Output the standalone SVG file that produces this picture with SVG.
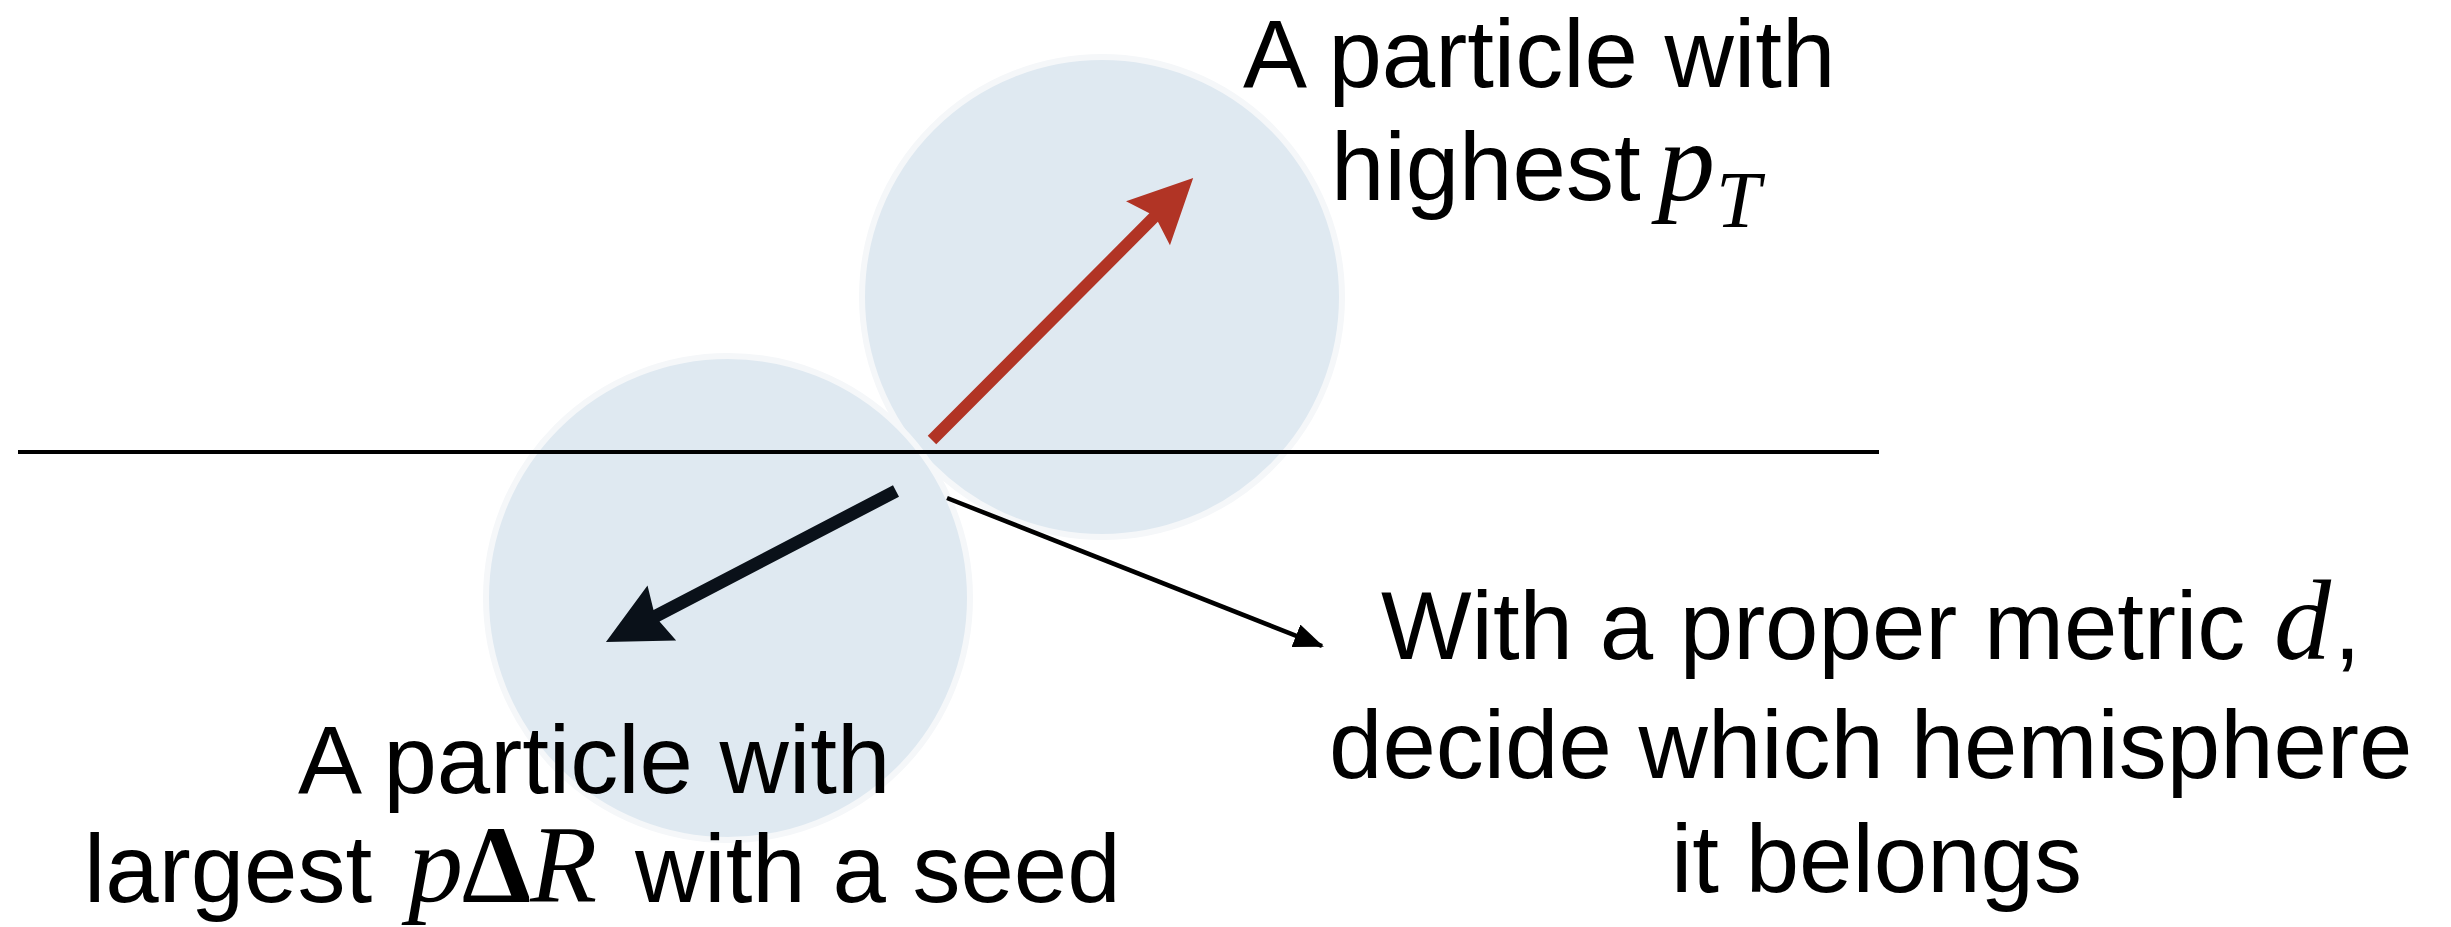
<svg xmlns="http://www.w3.org/2000/svg" width="2451" height="927" viewBox="0 0 2451 927">
  <style>
    .bubble { fill: #dfe9f1; stroke: #f5f7f9; stroke-width: 6; }
    .lbl { font-family: "Liberation Sans", Arial, sans-serif; font-size: 96px; fill: #000; }
    .math { font-family: "Liberation Serif", "Times New Roman", serif; font-style: italic; font-size: 114px; fill: #000; }
    .mathlow { font-family: "Liberation Serif", "Times New Roman", serif; font-style: italic; font-size: 110px; fill: #000; }
    .sub { font-family: "Liberation Serif", "Times New Roman", serif; font-style: italic; font-size: 80px; fill: #000; }
    .delta { font-family: "Liberation Serif", "Times New Roman", serif; font-weight: bold; font-size: 110px; fill: #000; }
    .axis { stroke: #000; stroke-width: 4; fill: none; }
    .pointer { stroke: #000; stroke-width: 4.5; fill: none; }
  </style>
  <defs>
    <marker id="thinHead" markerUnits="userSpaceOnUse" markerWidth="34" markerHeight="28" refX="28" refY="12" orient="auto">
      <path d="M0,0 L30,12 L0,24 Z" fill="#000"/>
    </marker>
  </defs>
  <rect width="2451" height="927" fill="#fff"/>

  <g id="hemisphere-upper">
    <circle class="bubble" cx="1102" cy="297" r="240"/>
  </g>
  <g id="hemisphere-lower">
    <circle class="bubble" cx="728" cy="598" r="242"/>
  </g>

  <g id="connectors">
    <line class="axis" x1="18" y1="452" x2="1879" y2="452"/>
    <line class="pointer" x1="947" y1="498" x2="1322" y2="646" marker-end="url(#thinHead)"/>
  </g>

  <g id="arrow-highest-pt">
    <path transform="translate(932,440) rotate(-45.1)" fill="#b13425" d="M0,-6 L314,-6 L306,-31 L370,0 L306,31 L314,6 L0,6 Z"/>
  </g>
  <g id="arrow-largest-pdr">
    <path transform="translate(896,491) rotate(152.5)" fill="#0a1119" d="M0,-6.5 L270,-6.5 L264,-31 L327,0 L264,31 L270,6.5 L0,6.5 Z"/>
  </g>

  <g id="label-highest-pt">
    <text class="lbl" x="1243" y="87">A particle with</text>
    <text class="lbl" x="1331" y="200">highest</text>
    <text class="math" x="1658" y="200">p</text>
    <text class="sub" x="1716" y="227">T</text>
  </g>

  <g id="label-largest-pdr">
    <text class="lbl" x="298" y="793">A particle with</text>
    <text class="lbl" x="84" y="902">largest</text>
    <text class="mathlow" x="408" y="902">p</text>
    <text class="delta" x="462" y="902">Δ</text>
    <text class="mathlow" x="530" y="902">R</text>
    <text class="lbl" x="635" y="902">with a seed</text>
  </g>

  <g id="label-metric">
    <text class="lbl" x="1381" y="659">With a proper metric</text>
    <text class="math" x="2274" y="659">d</text>
    <text class="lbl" x="2334" y="659">,</text>
    <text class="lbl" x="1329" y="778">decide which hemisphere</text>
    <text class="lbl" x="1671" y="892">it belongs</text>
  </g>
</svg>
